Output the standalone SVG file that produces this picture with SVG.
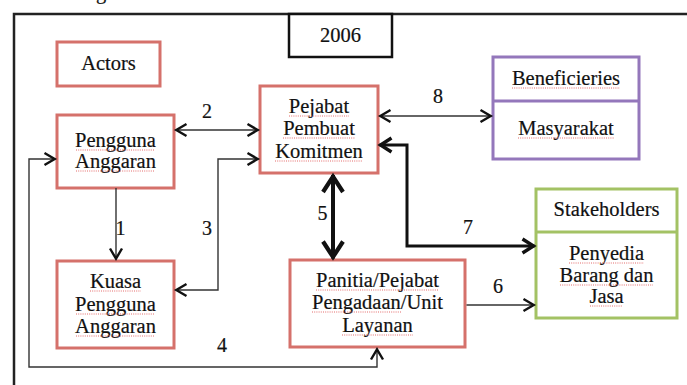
<svg xmlns="http://www.w3.org/2000/svg" width="687" height="385" viewBox="0 0 687 385">
  <style>
    .t { font-family: "Liberation Serif", "DejaVu Serif", serif; font-size: 20.5px; fill: #111; text-anchor: middle; stroke: #111; stroke-width: 0.2; }
    .n { font-family: "Liberation Serif", "DejaVu Serif", serif; font-size: 20px; fill: #111; text-anchor: middle; stroke: #111; stroke-width: 0.2; }
    .red { fill: #fff; stroke: #d5716b; stroke-width: 3; }
    .pur { fill: #fff; stroke: #9477bb; stroke-width: 3; }
    .grn { fill: #fff; stroke: #a3c264; stroke-width: 3; }
    .blk { fill: #fff; stroke: #111; stroke-width: 2.5; }
    .thin { fill: none; stroke: #333; stroke-width: 1.4; }
    .mid { fill: none; stroke: #111; stroke-width: 3; }
    .bold { fill: none; stroke: #111; stroke-width: 4; }
    .sp { fill: none; stroke: #e36b6b; stroke-width: 1; stroke-dasharray: 1 1.2; }
  </style>
  <defs>
    <marker id="chev" viewBox="-16 -10 20 20" refX="0" refY="0" markerWidth="20" markerHeight="20" markerUnits="userSpaceOnUse" orient="auto-start-reverse">
      <path d="M-11,-6 L-0.8,0 L-11,6" fill="none" stroke="#111" stroke-width="2.4"/>
    </marker>
    <marker id="chevM" viewBox="-18 -12 24 24" refX="0" refY="0" markerWidth="24" markerHeight="24" markerUnits="userSpaceOnUse" orient="auto-start-reverse">
      <path d="M-12,-7 L-1,0 L-12,7" fill="none" stroke="#111" stroke-width="3.4"/>
    </marker>
    <marker id="chevB" viewBox="-24 -14 30 28" refX="0" refY="0" markerWidth="30" markerHeight="28" markerUnits="userSpaceOnUse" orient="auto-start-reverse">
      <path d="M-17,-10 L-1.5,0 L-17,10" fill="none" stroke="#111" stroke-width="4.2"/>
    </marker>
  </defs>

  <!-- outer frame, running off the right and bottom edges -->
  <path d="M14,385 V14 H687" fill="none" stroke="#222" stroke-width="2.5"/>
  <text class="t" x="101" y="-1">g</text>

  <g id="year">
    <rect class="blk" x="289" y="14" width="103" height="43"/>
    <text class="t" x="340.5" y="42">2006</text>
  </g>

  <g id="actors">
    <rect class="red" x="57" y="42" width="103" height="44"/>
    <text class="t" x="108.5" y="70">Actors</text>
  </g>

  <g id="pengguna-anggaran">
    <rect class="red" x="57" y="115" width="117" height="73"/>
    <text class="t" x="115.5" y="147">Pengguna</text>
    <text class="t" x="115.5" y="168">Anggaran</text>
    <path class="sp" d="M76,150 H155 M76,171 H155"/>
  </g>

  <g id="pejabat-pembuat-komitmen">
    <rect class="red" x="260" y="86" width="118" height="87"/>
    <text class="t" x="319" y="113">Pejabat</text>
    <text class="t" x="319" y="135">Pembuat</text>
    <text class="t" x="319" y="158">Komitmen</text>
    <path class="sp" d="M289,116 H349 M283,138 H355 M275,161 H363"/>
  </g>

  <g id="kuasa-pengguna-anggaran">
    <rect class="red" x="57" y="261" width="117" height="87"/>
    <text class="t" x="115.5" y="288">Kuasa</text>
    <text class="t" x="115.5" y="311">Pengguna</text>
    <text class="t" x="115.5" y="333">Anggaran</text>
    <path class="sp" d="M90,291 H141 M76,314 H155 M76,336 H155"/>
  </g>

  <g id="panitia-pengadaan">
    <rect class="red" x="290" y="260" width="175" height="87"/>
    <text class="t" x="377.5" y="287">Panitia/Pejabat</text>
    <text class="t" x="377.5" y="309">Pengadaan/Unit</text>
    <text class="t" x="377.5" y="332">Layanan</text>
    <path class="sp" d="M316,290 H439 M312,312 H401 M342,335 H413"/>
  </g>

  <g id="beneficieries">
    <rect class="pur" x="493" y="57" width="146" height="102"/>
    <line x1="493" y1="101" x2="639" y2="101" stroke="#9477bb" stroke-width="3"/>
    <text class="t" x="566" y="85">Beneficieries</text>
    <text class="t" x="566" y="135">Masyarakat</text>
    <path class="sp" d="M512,88 H620 M518,138 H614"/>
  </g>

  <g id="stakeholders">
    <rect class="grn" x="536" y="189" width="141" height="129"/>
    <line x1="536" y1="232" x2="677" y2="232" stroke="#a3c264" stroke-width="3"/>
    <text class="t" x="606.5" y="216">Stakeholders</text>
    <text class="t" x="606.5" y="260">Penyedia</text>
    <text class="t" x="606.5" y="282">Barang dan</text>
    <text class="t" x="606.5" y="303">Jasa</text>
    <path class="sp" d="M569,263 H644 M560,285 H653 M590,306 H623"/>
  </g>

  <g id="connectors">
    <path class="thin" d="M116,188 V259.5" marker-end="url(#chev)"/>
    <path class="thin" d="M175.5,130 H258.5" marker-start="url(#chev)" marker-end="url(#chev)"/>
    <path class="thin" d="M175.5,290 H218 V159 H258.5" marker-start="url(#chev)" marker-end="url(#chev)"/>
    <path class="thin" d="M55.5,159 H29 V367 H377 V348.5" marker-start="url(#chev)" marker-end="url(#chev)"/>
    <path class="bold" d="M333,175 V258.5" marker-start="url(#chevB)" marker-end="url(#chevB)"/>
    <path class="thin" d="M466.5,305 H534.5" marker-end="url(#chev)"/>
    <path class="mid" d="M379.5,145 H407 V246 H534.5" marker-start="url(#chevM)" marker-end="url(#chevM)"/>
    <path class="thin" d="M379.5,116 H491.5" marker-start="url(#chev)" marker-end="url(#chev)"/>

    <text class="n" x="120.5" y="235">1</text>
    <text class="n" x="207" y="118">2</text>
    <text class="n" x="207" y="235">3</text>
    <text class="n" x="222" y="352">4</text>
    <text class="n" x="322.5" y="220">5</text>
    <text class="n" x="498" y="293">6</text>
    <text class="n" x="468" y="234">7</text>
    <text class="n" x="438" y="103">8</text>
  </g>
</svg>
